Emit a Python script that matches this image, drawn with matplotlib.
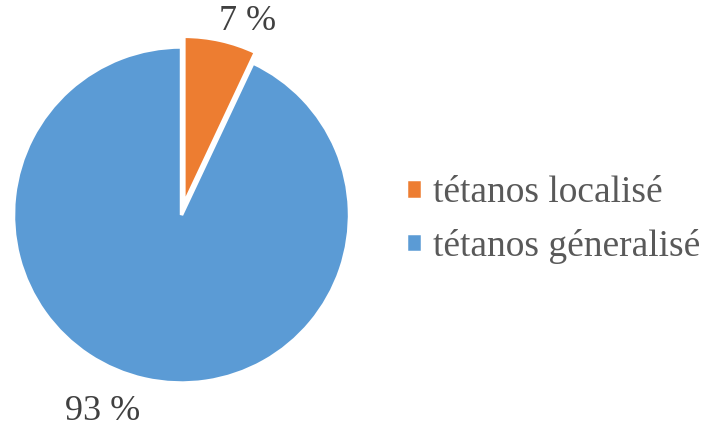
import matplotlib.pyplot as plt

labels = ["tétanos localisé", "tétanos géneralisé"]
values = [7, 93]
pct_labels = ["7 %", "93 %"]
colors = ["#ED7D31", "#5B9BD5"]

plt.rcParams['font.family'] = ['Liberation Serif', 'DejaVu Serif']

fig = plt.figure(figsize=(7.03, 4.29), dpi=100)
W, H = 703, 429
cx, cy, r = 181.5, 215, 168
ax = fig.add_axes([0, 0, 2 * cx / W, 2 * (H - cy) / H])
wedges, _ = ax.pie(values, colors=colors, startangle=90, counterclock=False,
                   explode=[0.065, 0], radius=1,
                   wedgeprops=dict(edgecolor="white", linewidth=2.5))
ax.set_xlim(-cx / r, cx / r)
ax.set_ylim(-(H - cy) / r, (H - cy) / r)
ax.set_aspect("equal")
ax.axis("off")

# percent labels
ax.text((248 - cx) / r, (cy - 22) / r, pct_labels[0], fontsize=26,
        color="#404040", ha="center", va="center")
ax.text((103 - cx) / r, (cy - 412) / r, pct_labels[1], fontsize=26,
        color="#404040", ha="center", va="center")

leg = fig.legend(wedges, labels, loc="center left",
                 bbox_to_anchor=(406 / W, 1 - 220 / H), frameon=False,
                 fontsize=27, handlelength=0.42, handleheight=0.42,
                 handletextpad=0.3, labelspacing=0.5, borderpad=0,
                 borderaxespad=0, labelcolor="#595959")

fig.savefig("out.png", dpi=100)
